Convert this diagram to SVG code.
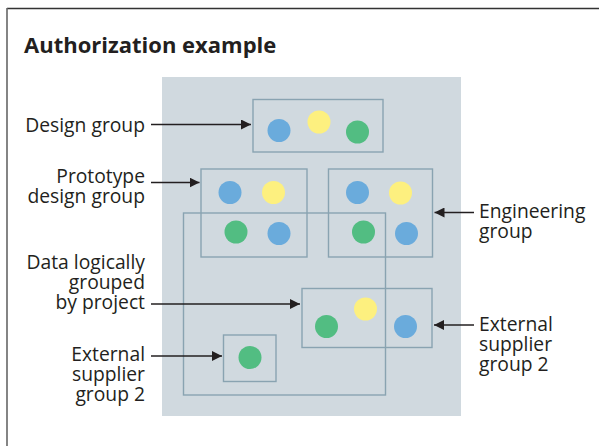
<svg xmlns="http://www.w3.org/2000/svg" width="599" height="446" viewBox="0 0 599 446">
  <defs>
    <marker id="arrow" viewBox="0 0 10 10" refX="10" refY="5" markerWidth="10" markerHeight="10" markerUnits="userSpaceOnUse" orient="auto">
      <path d="M0,0 L10,5 L0,10 Z" fill="#231f20"/>
    </marker>
    <style>
      .label { font-family: "Open Sans", "Noto Sans", sans-serif; font-size: 19.3px; fill: #231f20; }
      .left { text-anchor: end; }
      .title { font-family: "Open Sans", "Noto Sans", sans-serif; font-size: 22px; font-weight: bold; fill: #231f20; }
      .box { fill: none; stroke: #89a3b1; stroke-width: 1.4; }
      .conn { stroke: #231f20; stroke-width: 1.5; fill: none; marker-end: url(#arrow); }
      .blue { fill: #6aabdc; }
      .yellow { fill: #fdf07f; }
      .green { fill: #52bd82; }
    </style>
  </defs>

  <rect x="0" y="0" width="599" height="446" fill="#ffffff"/>
  <!-- frame -->
  <line x1="7" y1="8.5" x2="599" y2="8.5" stroke="#333333" stroke-width="1.5"/>
  <line x1="7" y1="8" x2="7" y2="446" stroke="#666666" stroke-width="1.6"/>

  <text class="title" x="24" y="53">Authorization example</text>

  <!-- background panel -->
  <rect x="162" y="77" width="299" height="339" fill="#d0d9df"/>

  <g id="design-group">
    <rect class="box" x="253" y="99.5" width="130" height="52.5"/>
    <circle class="blue" cx="279" cy="130.5" r="11.5"/>
    <circle class="yellow" cx="319" cy="122" r="11.5"/>
    <circle class="green" cx="357.5" cy="132" r="11.5"/>
  </g>

  <g id="prototype-design-group">
    <rect class="box" x="201" y="169" width="106" height="88"/>
    <circle class="blue" cx="230" cy="192.5" r="11.5"/>
    <circle class="yellow" cx="273.5" cy="192.5" r="11.5"/>
    <circle class="green" cx="236" cy="232" r="11.5"/>
    <circle class="blue" cx="279" cy="233.5" r="11.5"/>
  </g>

  <g id="engineering-group">
    <rect class="box" x="328.5" y="169" width="104" height="88"/>
    <circle class="blue" cx="357.5" cy="192.5" r="11.5"/>
    <circle class="yellow" cx="400.5" cy="193" r="11.5"/>
    <circle class="green" cx="363.5" cy="232" r="11.5"/>
    <circle class="blue" cx="406.5" cy="233.5" r="11.5"/>
  </g>

  <g id="project-data">
    <rect class="box" x="183.5" y="213" width="202" height="182"/>
  </g>

  <g id="external-supplier-right">
    <rect class="box" x="302" y="288.5" width="130" height="59"/>
    <circle class="green" cx="326.5" cy="326.5" r="11.5"/>
    <circle class="yellow" cx="365.5" cy="309" r="11.5"/>
    <circle class="blue" cx="405.5" cy="326.5" r="11.5"/>
  </g>

  <g id="external-supplier-left">
    <rect class="box" x="223.5" y="335" width="52.5" height="46.5"/>
    <circle class="green" cx="250" cy="357.5" r="11.5"/>
  </g>

  <!-- labels -->
  <g id="labels">
    <text class="label left" x="145" y="132">Design group</text>
    <text class="label left" x="145" y="183">Prototype</text>
    <text class="label left" x="145" y="203">design group</text>
    <text class="label left" x="145" y="269">Data logically</text>
    <text class="label left" x="145" y="289">grouped</text>
    <text class="label left" x="145" y="309">by project</text>
    <text class="label left" x="145" y="361">External</text>
    <text class="label left" x="145" y="381">supplier</text>
    <text class="label left" x="145" y="401">group 2</text>
    <text class="label" x="479" y="217.5">Engineering</text>
    <text class="label" x="479" y="237.5">group</text>
    <text class="label" x="479" y="331">External</text>
    <text class="label" x="479" y="351">supplier</text>
    <text class="label" x="479" y="371">group 2</text>
  </g>

  <g id="connectors">
    <line class="conn" x1="151" y1="124.5" x2="251" y2="124.5"/>
    <line class="conn" x1="151" y1="182.5" x2="199.5" y2="182.5"/>
    <line class="conn" x1="151" y1="304" x2="300" y2="304"/>
    <line class="conn" x1="151" y1="356" x2="222" y2="356"/>
    <line class="conn" x1="474" y1="212.5" x2="434.5" y2="212.5"/>
    <line class="conn" x1="474" y1="325" x2="434" y2="325"/>
  </g>
</svg>
